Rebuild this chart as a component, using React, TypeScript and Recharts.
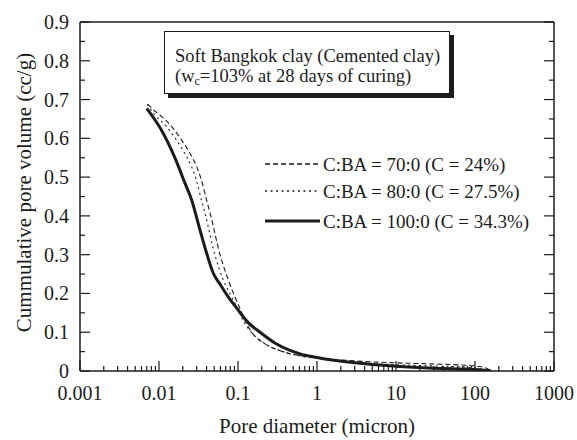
import React from 'react';
import { LineChart, Line, XAxis, YAxis, Legend, Label } from 'recharts';

const FONT = '"Liberation Serif", "Times New Roman", Times, serif';
const INK = '#1c1c1c';

// axis ticks
const xMajorTicks = [0.001, 0.01, 0.1, 1, 10, 100, 1000];
const xMinorSteps = [2, 3, 4, 5, 6, 7, 8, 9];
const yMajorTicks = [0, 0.1, 0.2, 0.3, 0.4, 0.5, 0.6, 0.7, 0.8, 0.9];
const yMinorTicks = [0.05, 0.15, 0.25, 0.35, 0.45, 0.55, 0.65, 0.75, 0.85];

// C:BA = 70:0 (C = 24%)
const diam70 = [0.0072, 0.0081, 0.0103, 0.0145, 0.0194, 0.0247, 0.03, 0.0345, 0.04, 0.0445, 0.0592, 0.0754, 0.0916, 0.104, 0.125, 0.149, 0.22, 0.37, 1, 3, 10, 30, 100, 140, 160];
const vol70 = [0.688, 0.677, 0.66, 0.63, 0.595, 0.561, 0.527, 0.492, 0.441, 0.406, 0.3, 0.235, 0.191, 0.165, 0.127, 0.1, 0.07, 0.05, 0.034, 0.026, 0.021, 0.018, 0.013, 0.007, 0.0];

// C:BA = 80:0 (C = 27.5%)
const diam80 = [0.0071, 0.0089, 0.0125, 0.0167, 0.0212, 0.0258, 0.0297, 0.0344, 0.0383, 0.0509, 0.0652, 0.0832, 0.0963, 0.12, 0.147, 0.22, 0.37, 1, 3, 10, 30, 100, 160];
const vol80 = [0.688, 0.66, 0.63, 0.595, 0.561, 0.527, 0.492, 0.441, 0.406, 0.3, 0.235, 0.191, 0.165, 0.125, 0.1, 0.07, 0.05, 0.032, 0.023, 0.016, 0.013, 0.008, 0.0];

// C:BA = 100:0 (C = 34.3%)
const diam100 = [0.007, 0.0113, 0.0184, 0.0203, 0.0259, 0.0331, 0.0402, 0.0487, 0.0592, 0.0747, 0.0963, 0.13, 0.19, 0.3, 0.455, 0.61, 1, 3, 10, 30, 100, 160];
const vol100 = [0.677, 0.613, 0.518, 0.495, 0.441, 0.363, 0.303, 0.252, 0.224, 0.192, 0.162, 0.128, 0.1, 0.071, 0.053, 0.044, 0.035, 0.021, 0.012, 0.007, 0.004, 0.0];

const seriesNames = ['C:BA = 70:0 (C = 24%)', 'C:BA = 80:0 (C = 27.5%)', 'C:BA = 100:0 (C = 34.3%)'];

const toRows = (d: number[], v: number[]) => d.map((x, i) => ({ d: x, v: v[i] }));

const series = [
  { name: seriesNames[0], data: toRows(diam70, vol70), dash: '5 3', width: 1.1, legendWidth: 1.4 },
  { name: seriesNames[1], data: toRows(diam80, vol80), dash: '2 3.5', width: 1.1, legendWidth: 1.6 },
  { name: seriesNames[2], data: toRows(diam100, vol100), dash: undefined, width: 3, legendWidth: 3 },
];

const xTicks = [
  ...xMajorTicks,
  ...xMajorTicks.slice(0, -1).flatMap((d) => xMinorSteps.map((m) => d * m)),
].sort((a, b) => a - b);
const yTicks = [...yMajorTicks, ...yMinorTicks].sort((a, b) => a - b);

const isMajorX = (v: number) => xMajorTicks.some((t) => Math.abs(Math.log10(v) - Math.log10(t)) < 1e-6);
const isMajorY = (v: number) => yMajorTicks.some((t) => Math.abs(v - t) < 1e-6);

const X_GAP = 29;
const Y_GAP = 10;

function BottomTick({ x, y, payload }: any) {
  const major = isMajorX(payload.value);
  const y0 = y - X_GAP;
  return (
    <g>
      <line x1={x} x2={x} y1={y0} y2={y0 - (major ? 10 : 5)} stroke={INK} strokeWidth={1.2} />
      {major && (
        <text x={x} y={y} textAnchor="middle" fontSize={20} fontFamily={FONT} fill={INK}>
          {String(payload.value)}
        </text>
      )}
    </g>
  );
}

function TopTick({ x, y, payload }: any) {
  const major = isMajorX(payload.value);
  return <line x1={x} x2={x} y1={y} y2={y + (major ? 10 : 5)} stroke={INK} strokeWidth={1.2} />;
}

function LeftTick({ x, y, payload }: any) {
  const major = isMajorY(payload.value);
  const x0 = x + Y_GAP;
  return (
    <g>
      <line x1={x0} x2={x0 + (major ? 10 : 5)} y1={y} y2={y} stroke={INK} strokeWidth={1.2} />
      {major && (
        <text x={x - 1} y={y + 7} textAnchor="end" fontSize={20} fontFamily={FONT} fill={INK}>
          {String(payload.value)}
        </text>
      )}
    </g>
  );
}

function RightTick({ x, y, payload }: any) {
  const major = isMajorY(payload.value);
  return <line x1={x} x2={x - (major ? 10 : 5)} y1={y} y2={y} stroke={INK} strokeWidth={1.2} />;
}

function LegendBox() {
  const rowY = [14, 41, 71];
  return (
    <svg width={300} height={90} style={{ display: 'block' }}>
      {series.map((s, i) => (
        <g key={s.name}>
          <line x1={0} x2={55} y1={rowY[i]} y2={rowY[i]} stroke={INK} strokeWidth={s.legendWidth} strokeDasharray={s.dash} />
          <text x={58} y={rowY[i] + 6.5} fontSize={19} fontFamily={FONT} fill={INK}>
            {s.name}
          </text>
        </g>
      ))}
    </svg>
  );
}

export default function App() {
  return (
    <div style={{ position: 'absolute', left: 0, top: 0, width: 577, height: 440, background: '#fff' }}>
      <LineChart width={577} height={440} margin={{ top: 21, right: 22, left: 0, bottom: 0 }}>
        <XAxis
          xAxisId={0}
          dataKey="d"
          type="number"
          scale="log"
          domain={[0.001, 1000]}
          allowDataOverflow
          ticks={xTicks}
          interval={0}
          height={69}
          tickSize={0}
          tickMargin={X_GAP}
          tickLine={false}
          tick={<BottomTick />}
          axisLine={{ stroke: INK, strokeWidth: 1.5 }}
        >
          <Label
            content={({ viewBox }: any) => (
              <text
                x={viewBox.x + viewBox.width / 2}
                y={viewBox.y + 62}
                textAnchor="middle"
                fontSize={21}
                fontFamily={FONT}
                fill={INK}
              >
                Pore diameter (micron)
              </text>
            )}
          />
        </XAxis>
        <XAxis
          xAxisId="top"
          orientation="top"
          type="number"
          scale="log"
          domain={[0.001, 1000]}
          allowDataOverflow
          ticks={xTicks}
          interval={0}
          height={1}
          tickSize={0}
          tickMargin={0}
          tickLine={false}
          tick={<TopTick />}
          axisLine={{ stroke: INK, strokeWidth: 1.5 }}
        />
        <YAxis
          yAxisId={0}
          type="number"
          domain={[0, 0.9]}
          allowDataOverflow
          ticks={yTicks}
          interval={0}
          width={80}
          tickSize={0}
          tickMargin={Y_GAP}
          tickLine={false}
          tick={<LeftTick />}
          axisLine={{ stroke: INK, strokeWidth: 1.5 }}
        >
          <Label
            content={({ viewBox }: any) => {
              const cx = 24;
              const cy = viewBox.y + viewBox.height / 2 - 4;
              return (
                <text
                  x={cx}
                  y={cy}
                  transform={`rotate(-90, ${cx}, ${cy})`}
                  textAnchor="middle"
                  dominantBaseline="central"
                  fontSize={21}
                  fontFamily={FONT}
                  fill={INK}
                >
                  Cummulative pore volume (cc/g)
                </text>
              );
            }}
          />
        </YAxis>
        <YAxis
          yAxisId="right"
          orientation="right"
          type="number"
          domain={[0, 0.9]}
          allowDataOverflow
          ticks={yTicks}
          interval={0}
          width={1}
          tickSize={0}
          tickMargin={0}
          tickLine={false}
          tick={<RightTick />}
          axisLine={{ stroke: INK, strokeWidth: 1.5 }}
        />
        {series.map((s) => (
          <Line
            key={s.name}
            name={s.name}
            data={s.data}
            dataKey="v"
            type="monotone"
            stroke={INK}
            strokeWidth={s.width}
            strokeDasharray={s.dash}
            dot={false}
            activeDot={false}
            isAnimationActive={false}
          />
        ))}
        <Legend
          layout="vertical"
          align="center"
          verticalAlign="middle"
          content={<LegendBox />}
          wrapperStyle={{ position: 'absolute', left: 265, top: 150, width: 300, height: 90 }}
        />
      </LineChart>
      <div
        style={{
          position: 'absolute',
          left: 164,
          top: 31,
          width: 286,
          height: 63,
          border: `1.5px solid ${INK}`,
          boxShadow: `4px 4px 0 ${INK}`,
          background: '#fff',
          fontFamily: FONT,
          fontSize: 18.5,
          lineHeight: '20px',
          color: INK,
          paddingLeft: 10,
          paddingTop: 14,
          boxSizing: 'border-box',
          whiteSpace: 'nowrap',
        }}
      >
        <div>Soft Bangkok clay (Cemented clay)</div>
        <div>
          (w<sub style={{ fontSize: 12, verticalAlign: 'baseline', position: 'relative', top: 3 }}>c</sub>=103% at 28 days of curing)
        </div>
      </div>
    </div>
  );
}
